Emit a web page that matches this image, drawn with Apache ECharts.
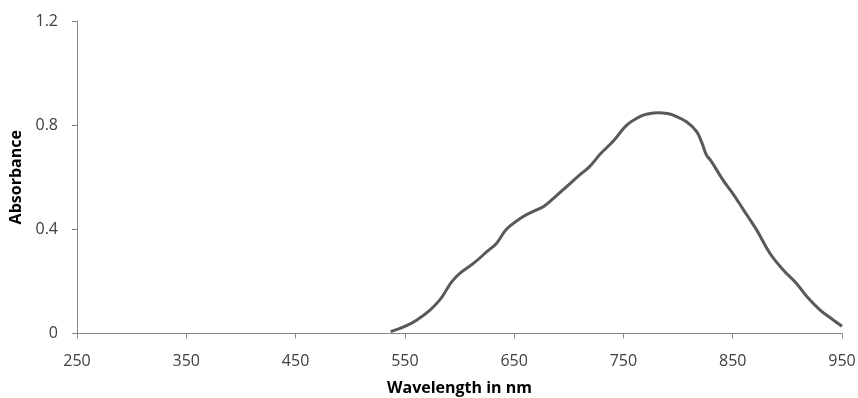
<!DOCTYPE html>
<html>
<head>
<meta charset="utf-8">
<script src="https://cdn.jsdelivr.net/npm/echarts@6/dist/echarts.min.js"></script>
<style>
html,body{margin:0;padding:0;background:#fff;}
#chart{width:858px;height:398px;}
</style>
</head>
<body>
<div id="chart"></div>
<script>
var wavelengths = [537,550,561,573,582,588,593,600,613,625,634,641,646,658,668,677,686,698,710,719,729,741,753,765,772,782,790,796,808,817,822,826,830,841,850,860,872,884,896,908,918,930,942,950];
var absorbance = [0.007,0.027,0.052,0.09,0.129,0.167,0.199,0.23,0.27,0.314,0.347,0.39,0.412,0.448,0.47,0.488,0.519,0.564,0.609,0.641,0.69,0.74,0.8,0.833,0.843,0.848,0.845,0.838,0.812,0.775,0.73,0.685,0.664,0.59,0.538,0.474,0.397,0.308,0.245,0.194,0.141,0.09,0.052,0.028];
var xTicks = [250,350,450,550,650,750,850,950];
var yTicks = [0,0.4,0.8,1.2];

var data = wavelengths.map(function(w,i){return [w, absorbance[i]];});
var chart = echarts.init(document.getElementById('chart'));
var font = '"Open Sans", sans-serif';
chart.setOption({
  animation:false,
  grid:{left:77,right:16,top:21,bottom:64.5,containLabel:false,outerBoundsMode:'none'},
  xAxis:{
    type:'value', min:xTicks[0], max:xTicks[xTicks.length-1], interval:100,
    name:'Wavelength in nm', nameLocation:'middle', nameGap:47,
    nameTextStyle:{fontFamily:font,fontWeight:'bold',fontSize:16,color:'#000'},
    axisLine:{lineStyle:{color:'#868686',width:1}},
    axisTick:{show:true,length:5,lineStyle:{color:'#868686'}},
    axisLabel:{fontFamily:font,fontSize:16,color:'#404040',margin:20},
    splitLine:{show:false}
  },
  yAxis:{
    type:'value', min:yTicks[0], max:yTicks[yTicks.length-1], interval:0.4,
    name:'Absorbance', nameLocation:'middle', nameGap:51,
    nameTextStyle:{fontFamily:font,fontWeight:'bold',fontSize:16,color:'#000'},
    axisLine:{show:true,lineStyle:{color:'#868686',width:1}},
    axisTick:{show:true,length:5,lineStyle:{color:'#868686'}},
    axisLabel:{fontFamily:font,fontSize:16,color:'#404040',margin:19,
      formatter:function(v){return Math.abs(v)<1e-9?'0':(Math.round(v*10)/10).toString();}},
    splitLine:{show:false}
  },
  series:[{
    type:'line', data:data, smooth:0.4, showSymbol:false,
    lineStyle:{color:'#595959',width:3}
  }]
});
</script>
</body>
</html>
